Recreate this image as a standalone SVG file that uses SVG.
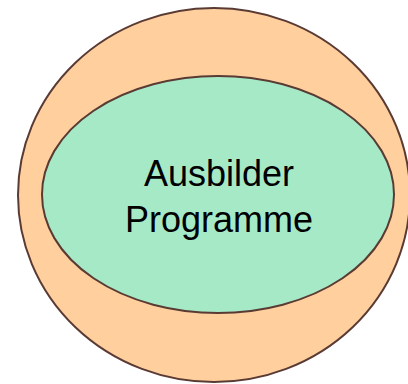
<svg xmlns="http://www.w3.org/2000/svg" width="408" height="384" viewBox="0 0 408 384">
<style>
.shape{stroke:#5a3b34;stroke-width:2}
.lbl{font-family:"Liberation Sans",Arial,sans-serif;font-size:36px;fill:#000;text-anchor:middle}
</style>
<rect width="408" height="384" fill="#fff"/>
<g id="outer">
<ellipse class="shape" cx="214" cy="195" rx="196" ry="187" fill="#ffcf9e"/>
</g>
<g id="inner">
<ellipse class="shape" cx="218" cy="194.5" rx="176" ry="118.5" fill="#a6e9c6"/>
<text class="lbl" x="219" y="186">Ausbilder</text>
<text class="lbl" x="219" y="232">Programme</text>
</g>
<g id="connectors"/>
</svg>
